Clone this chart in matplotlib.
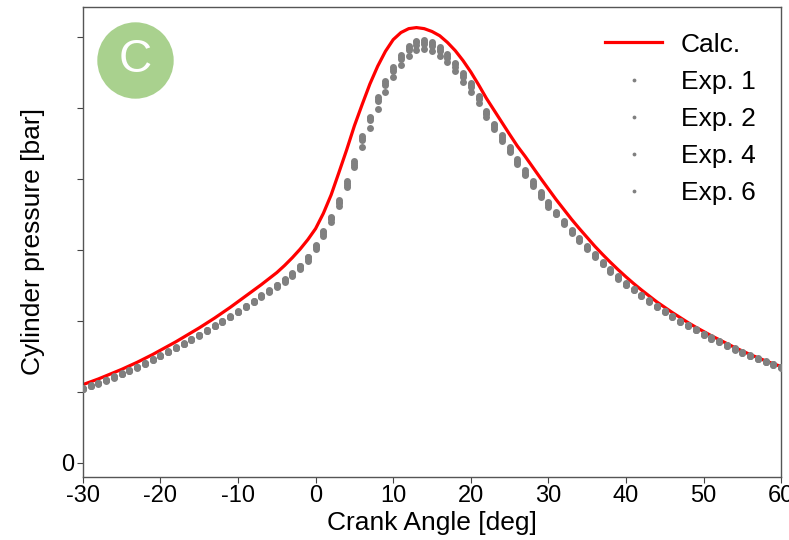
import numpy as np
import matplotlib
matplotlib.use("Agg")
import matplotlib.pyplot as plt

plt.rcParams['font.family'] = ['Liberation Sans', 'DejaVu Sans']
plt.rcParams['axes.unicode_minus'] = False

# crank angle grid, one point per degree
crank = np.arange(-30, 61)

calc = [22.0, 22.8, 23.6, 24.5, 25.4, 26.3, 27.3, 28.3, 29.4, 30.5,
        31.7, 32.9, 34.1, 35.4, 36.7, 38.0, 39.4, 40.8, 42.3, 43.8,
        45.4, 47.0, 48.6, 50.2, 51.9, 53.6, 55.6, 57.8, 60.2, 62.9,
        66.0, 70.3, 75.5, 81.8, 88.2, 95.0, 101.0, 106.8, 111.8, 116.0,
        119.3, 121.3, 122.4, 122.7, 122.4, 121.6, 120.4, 118.5, 116.2, 113.4,
        110.2, 106.6, 102.8, 99.4, 96.0, 92.6, 89.3, 86.4, 83.3, 80.2,
        77.2, 74.2, 71.4, 68.6, 66.0, 63.5, 61.0, 58.7, 56.5, 54.4,
        52.4, 50.5, 48.7, 47.0, 45.3, 43.8, 42.3, 40.9, 39.5, 38.2,
        37.0, 35.8, 34.7, 33.6, 32.5, 31.5, 30.5, 29.6, 28.7, 27.9, 27.1]

exp1 = [21.0, 21.8, 22.6, 23.4, 24.3, 25.2, 26.1, 27.1, 28.1, 29.2,
        30.3, 31.4, 32.5, 33.7, 34.9, 36.1, 37.4, 38.7, 40.0, 41.3,
        42.7, 44.2, 45.7, 47.2, 48.6, 50.1, 51.7, 53.4, 55.5, 58.1,
        61.5, 65.4, 69.4, 74.0, 79.3, 85.0,
        92.0, 97.6, 103.0, 107.6, 111.5, 115.0, 117.4, 119.0, 119.2, 118.7,
        117.2, 115.3, 112.8, 109.8, 107.0, 103.5,
        99.2, 95.6, 92.3, 89.0, 85.7, 82.5, 79.5, 76.4, 73.6, 70.8,
        68.2, 65.7, 63.3, 61.1, 58.9, 56.7, 54.6, 52.6, 50.8, 49.1,
        47.4, 45.8, 44.2, 42.8, 41.4, 40.0, 38.8, 37.6, 36.4, 35.3,
        34.3, 33.2, 32.2, 31.2, 30.3, 29.4, 28.6, 27.8, 27.1]

exp2 = [20.9, 21.7, 22.5, 23.3, 24.2, 25.1, 26.0, 27.0, 28.0, 29.1,
        30.2, 31.3, 32.4, 33.6, 34.8, 36.0, 37.3, 38.6, 39.9, 41.2,
        42.6, 44.1, 45.6, 47.1, 48.5, 50.0, 51.6, 53.3, 55.4, 58.0,
        61.2, 65.0, 69.0, 73.6, 78.9, 84.5,
        91.5, 97.1, 102.5, 107.0, 111.0, 114.4, 116.9, 118.5, 118.7, 118.2,
        116.7, 114.8, 112.3, 109.3, 106.4, 102.9,
        98.7, 95.1, 91.8, 88.5, 85.2, 82.0, 79.0, 75.9, 73.1, 70.5,
        67.9, 65.4, 63.0, 60.8, 58.6, 56.4, 54.3, 52.3, 50.5, 49.0,
        47.3, 45.7, 44.1, 42.7, 41.3, 39.9, 38.7, 37.5, 36.3, 35.2,
        34.2, 33.1, 32.1, 31.1, 30.2, 29.3, 28.5, 27.7, 27.0]

exp4 = [20.8, 21.6, 22.4, 23.2, 24.1, 25.0, 25.9, 26.9, 27.9, 29.0,
        30.1, 31.2, 32.3, 33.5, 34.7, 35.9, 37.2, 38.5, 39.8, 41.1,
        42.5, 43.9, 45.4, 46.9, 48.3, 49.8, 51.4, 53.0, 55.0, 57.5,
        60.7, 64.6, 68.6, 73.2, 78.4, 84.0,
        90.9, 96.5, 101.9, 106.5, 110.4, 113.9, 116.3, 117.9, 118.1, 117.6,
        116.1, 114.2, 111.7, 108.7, 105.9, 102.5,
        98.2, 94.6, 91.3, 88.0, 84.7, 81.5, 78.5, 75.4, 72.6, 70.2,
        67.6, 65.1, 62.7, 60.5, 58.3, 56.1, 54.0, 52.0, 50.2, 48.6,
        47.0, 45.4, 43.9, 42.5, 41.1, 39.7, 38.5, 37.3, 36.1, 35.0,
        34.0, 33.0, 32.0, 31.0, 30.1, 29.2, 28.4, 27.6, 26.9]

exp6 = [20.7, 21.5, 22.3, 23.1, 24.0, 24.9, 25.8, 26.8, 27.8, 28.9,
        30.0, 31.1, 32.2, 33.4, 34.6, 35.8, 37.1, 38.4, 39.7, 41.0,
        42.4, 43.8, 45.2, 46.6, 48.0, 49.4, 51.0, 52.6, 54.5, 57.0,
        60.2, 64.0, 68.0, 72.5, 77.6, 83.3,
        89.0, 94.5, 99.8, 104.6, 108.7, 112.2, 114.8, 116.3, 116.6, 116.2,
        114.8, 112.9, 110.4, 107.4, 104.6, 101.3,
        97.4, 94.0, 90.8, 87.5, 84.2, 81.0, 78.0, 74.9, 72.1, 70.0,
        67.4, 64.9, 62.5, 60.3, 58.1, 55.9, 53.8, 51.8, 50.0, 48.7,
        47.1, 45.5, 43.9, 42.5, 41.1, 39.7, 38.5, 37.3, 36.1, 35.0,
        34.0, 32.9, 31.9, 30.9, 30.0, 29.1, 28.3, 27.5, 26.8]

exp_series = [("Exp. 1", exp1), ("Exp. 2", exp2), ("Exp. 4", exp4), ("Exp. 6", exp6)]
yticks = [0, 20, 40, 60, 80, 100, 120]
ytick_labels = ["0", "", "", "", "", "", ""]

fig = plt.figure(figsize=(7.89, 5.40), dpi=100)
ax = fig.add_axes([0.105, 0.117, 0.885, 0.870])

ax.plot(crank, calc, color="red", lw=2.3, label="Calc.", zorder=2)
for name, vals in exp_series:
    ax.plot(crank, vals, ls="none", marker="o", ms=5.0, color="#808080",
            mec="none", label=name, zorder=3)

ax.set_xlim(-30, 60)
ax.set_ylim(-4, 128.5)
ax.set_xticks(range(-30, 61, 10))
ax.set_yticks(yticks)
ax.set_yticklabels(ytick_labels)
ax.tick_params(labelsize=17, color="#444444", length=4, pad=2)
for s in ax.spines.values():
    s.set_color("#555555")
    s.set_linewidth(1.0)

ax.set_xlabel("Crank Angle [deg]", fontsize=19, labelpad=3)
ax.set_ylabel("Cylinder pressure [bar]", fontsize=19, labelpad=12)

leg = ax.legend(loc="upper right", frameon=False, fontsize=19, markerscale=0.55,
                handlelength=2.15, labelspacing=0.5, borderaxespad=0.57,
                handletextpad=0.7)

# panel badge
ax.plot([0.0745], [0.887], transform=ax.transAxes, marker="o", ms=55,
        color="#a9d18e", mec="none", clip_on=False, zorder=4)
ax.text(0.0745, 0.887, "C", transform=ax.transAxes, color="white",
        fontsize=33, ha="center", va="center", zorder=5)

fig.savefig("out.png", dpi=100)
